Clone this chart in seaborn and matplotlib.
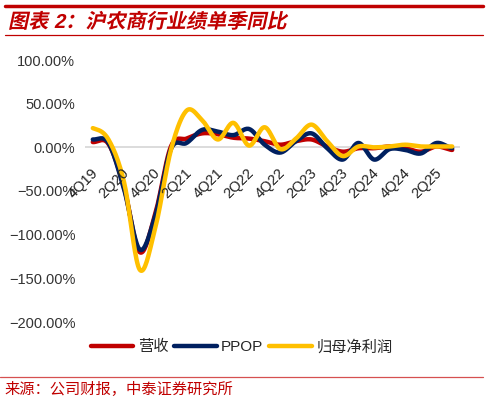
import numpy as np
import pandas as pd
import matplotlib
matplotlib.use('Agg')
import matplotlib.pyplot as plt
from matplotlib.lines import Line2D
from matplotlib.ticker import FuncFormatter
from matplotlib.patheffects import AbstractPathEffect
from matplotlib.transforms import Affine2D
import seaborn as sns

# single-quarter yoy growth, %
quarters = ['4Q19', '1Q20', '2Q20', '3Q20', '4Q20', '1Q21', '2Q21', '3Q21',
            '4Q21', '1Q22', '2Q22', '3Q22', '4Q22', '1Q23', '2Q23', '3Q23',
            '4Q23', '1Q24', '2Q24', '3Q24', '4Q24', '1Q25', '2Q25', '3Q25']
revenue = [6, 4, -46, -120, -76, 1, 10, 16, 15, 11, 10, 7, 3, 7, 9, 1,
           -5, -1, -1, 1, -1, -5, 1, -3]
ppop = [9, 5, -48, -117, -78, -2, 5, 20, 18, 14, 21, 3, -6, 7, 16, -1,
        -14, 5, -14, -2, -3, -7, 5, -1]
net_profit = [22, 9, -40, -140, -92, -3, 42, 31, 9, 28, 2, 23, -2, 10, 26, 7,
              -10, 1, 0, 1, 3, 1, 1, 1]

series_names = ['营收', 'PPOP', '归母净利润']
colors = ['#c00000', '#002060', '#ffc000']
tick_labels = quarters[::2]

RED = '#c00000'
W, H = 488, 400


def smooth(y, n=20):
    """Excel-like smoothed line (uniform Catmull-Rom through the points)."""
    y = np.asarray(y, dtype=float)
    p = np.concatenate([[y[0]], y, [y[-1]]])
    t = np.linspace(0, 1, n, endpoint=False)
    xs, ys = [], []
    for i in range(len(y) - 1):
        p0, p1, p2, p3 = p[i], p[i + 1], p[i + 2], p[i + 3]
        seg = 0.5 * (2 * p1 + (-p0 + p2) * t + (2 * p0 - 5 * p1 + 4 * p2 - p3) * t ** 2
                     + (-p0 + 3 * p1 - 3 * p2 + p3) * t ** 3)
        xs.append(i + t)
        ys.append(seg)
    xs.append([len(y) - 1])
    ys.append([y[-1]])
    return np.concatenate(xs), np.concatenate(ys)


class Slant(AbstractPathEffect):
    # fake italic for the CJK title: shear glyphs around the baseline
    def __init__(self, y0, deg=12):
        super().__init__()
        self.y0 = y0
        self.deg = deg

    def draw_path(self, renderer, gc, tpath, affine, rgbFace=None):
        sh = Affine2D().translate(0, -self.y0).skew_deg(self.deg, 0).translate(0, self.y0)
        renderer.draw_path(gc, tpath, affine + sh, rgbFace)


sns.set_style('white')
plt.rcParams['font.family'] = ['Liberation Sans', 'Noto Sans CJK SC']
plt.rcParams['axes.unicode_minus'] = True

fig = plt.figure(figsize=(W / 100, H / 100), dpi=100)
ax = fig.add_axes([85 / W, 1 - 322 / H, 375 / W, 262 / H])

ax.axhline(0, color='#d9d9d9', lw=1.3, zorder=0)

for name, vals, c in zip(series_names, [revenue, ppop, net_profit], colors):
    sx, sy = smooth(vals)
    df = pd.DataFrame({'q': sx, 'v': sy})
    sns.lineplot(data=df, x='q', y='v', sort=False, estimator=None, color=c,
                 lw=3.2, ax=ax, label=name, solid_capstyle='round')

ax.set_xlim(-0.5, len(quarters) - 0.5)
ax.set_ylim(-200, 100)
ax.set_yticks(np.arange(-200, 101, 50))
ax.yaxis.set_major_formatter(FuncFormatter(lambda v, _: f'{v:.2f}%'.replace('-', '\u2212')))
ax.tick_params(axis='y', length=0, pad=7, labelsize=10.5, labelcolor='#333333')
ax.set_xticks([])
ax.set_xlabel('')
ax.set_ylabel('')
for s in ax.spines.values():
    s.set_visible(False)

# category labels sit just under the zero line
for i, lab in enumerate(quarters):
    if lab in tick_labels:
        ax.annotate(lab, xy=(i, 0), xytext=(-1.5, -13), textcoords='offset points',
                    rotation=45, rotation_mode='anchor', ha='right', va='top',
                    fontsize=10.5, color='#222222')

ax.get_legend().remove()
handles = [Line2D([], [], color=c, lw=3.2) for c in colors]
fig.legend(handles, series_names, loc='center', bbox_to_anchor=(0.495, 0.1325),
           ncol=3, frameon=False, fontsize=11, handlelength=2.8,
           handletextpad=0.3, columnspacing=0.35)

# header and footer
fig.add_artist(Line2D([5 / W, 483 / W], [1 - 6 / H] * 2, color=RED, lw=2.5))
title_base = H - 28
fig.text(8 / W, title_base / H, '图表 2：沪农商行业绩单季同比', color=RED,
         fontsize=14.5, fontweight='bold', va='baseline', ha='left',
         path_effects=[Slant(title_base)])
fig.add_artist(Line2D([5 / W, 483 / W], [1 - 35 / H] * 2, color=RED, lw=0.9))
fig.add_artist(Line2D([0, 483 / W], [1 - 377 / H] * 2, color='#d65050', lw=0.9))
fig.text(4 / W, 1 - 389 / H, '来源：公司财报，中泰证券研究所', color=RED,
         fontsize=11, va='center', ha='left')

fig.savefig('out.png', dpi=100)
